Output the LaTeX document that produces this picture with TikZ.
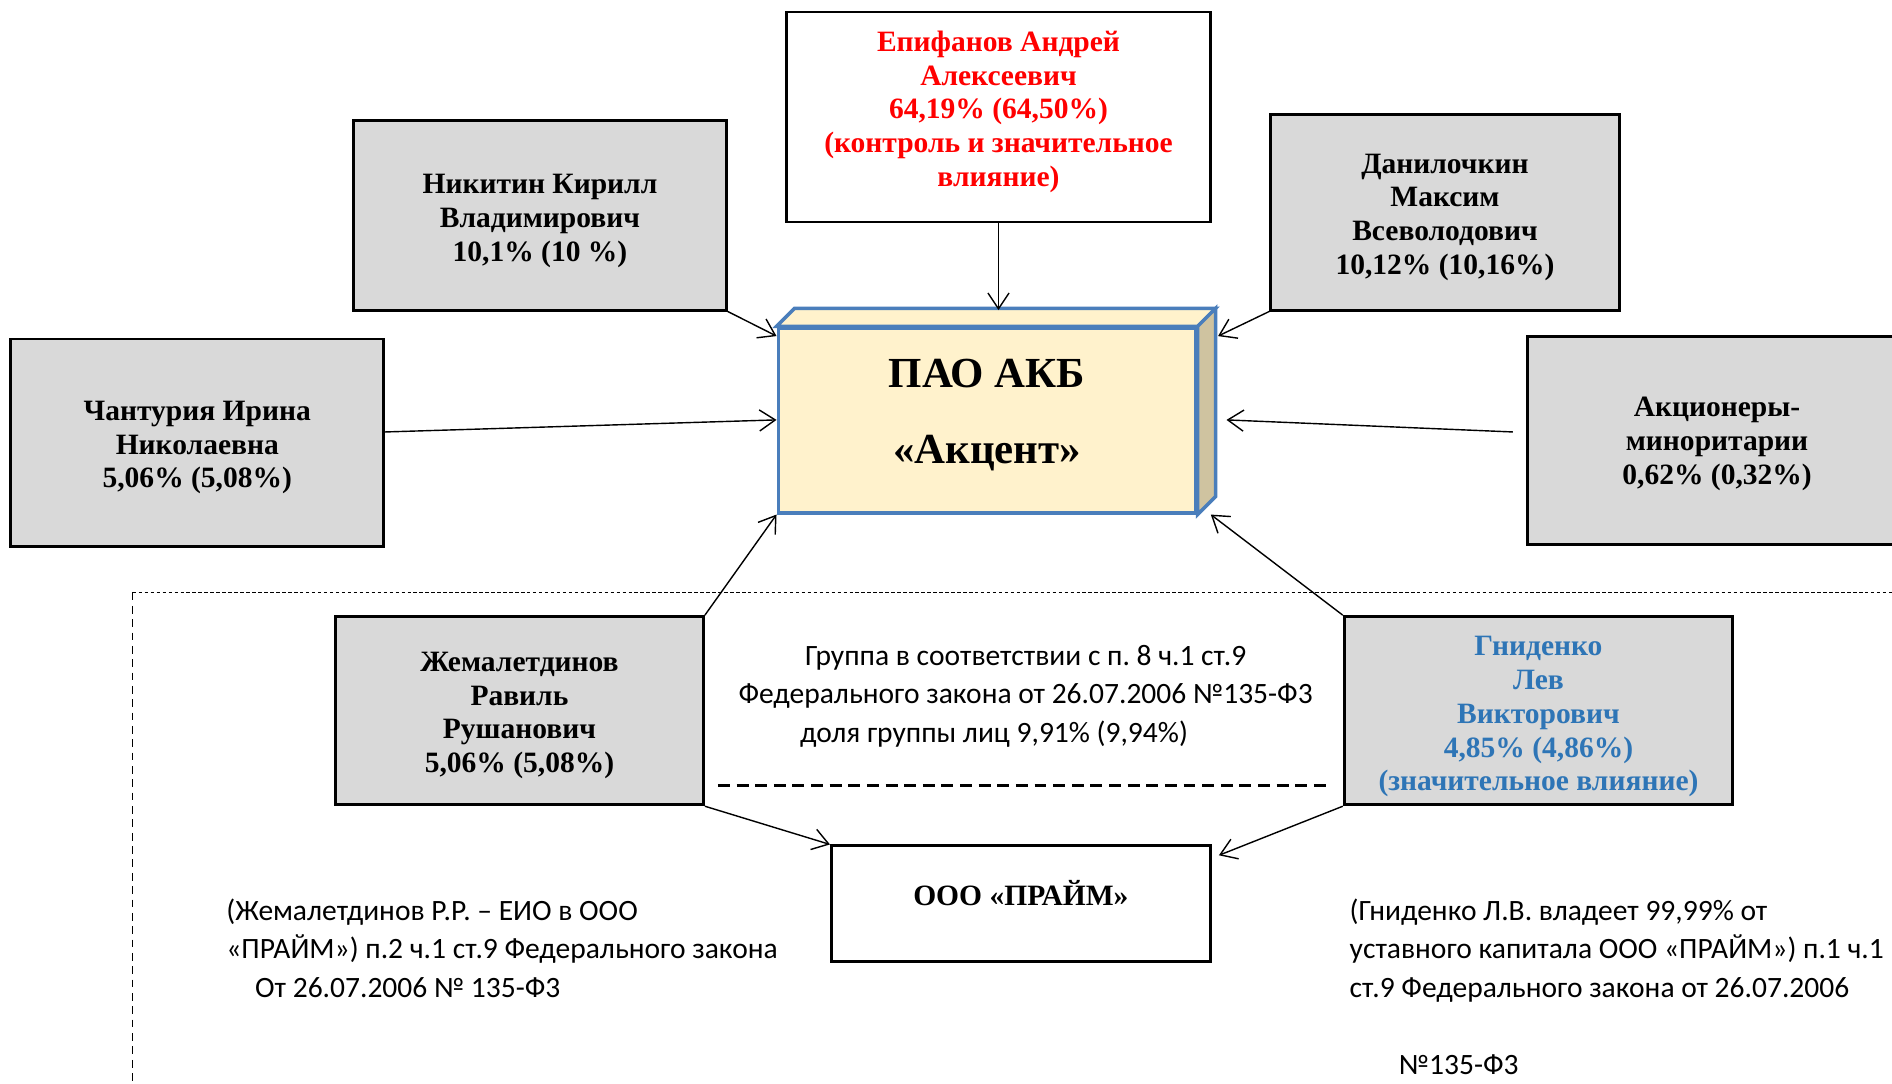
\documentclass[tikz,border=0pt]{standalone}
\usepackage{fontspec}
\setmainfont{Liberation Serif}
\newfontfamily\calibri{Carlito}
\usetikzlibrary{calc}
\usetikzlibrary{arrows.meta}
\frenchspacing

\definecolor{boxgray}{RGB}{217,217,217}
\definecolor{paofill}{RGB}{255,242,204}
\definecolor{paoside}{RGB}{207,195,160}
\definecolor{paoline}{RGB}{74,126,187}
\definecolor{gnidblue}{RGB}{46,117,182}

\newdimen\pxu \pxu=0.012066cm

\tikzset{
  holder/.style={draw=black,line width=0.8pt,fill=boxgray,align=center,inner sep=0pt,
    text depth=0pt,font=\fontsize{8.4}{9.6}\selectfont\bfseries},
  link/.style={-{Straight Barb[length=4.5pt,width=6pt]},line width=0.4pt},
  note/.style={align=left,inner sep=0pt,anchor=north west,
    font=\calibri\fontsize{8.4}{11}\selectfont},
}

\begin{document}
\begin{tikzpicture}[x=0.012066cm,y=-0.012066cm]
                    \useasboundingbox (0,0) rectangle (1568,898);
                    \clip (0,0) rectangle (1568,898);
                    % group frame
                    \draw[dash pattern=on 1pt off 0.7pt,line width=0.4pt] (110,491) -- (1580,491);
                    \draw[dash pattern=on 2.2pt off 1.6pt,line width=0.4pt] (110,491) -- (110,900);
                    \draw[dash pattern=on 3.4pt off 1.9pt,line width=0.6pt] (595,651) -- (1100,651);
                    % bank
                    \node[draw=paoline,line width=1pt,fill=paofill,inner sep=0pt,align=center,
                        minimum width=346\pxu,minimum height=153\pxu,text height=24.2pt,text depth=0pt,
                        font=\fontsize{12.2}{21.6}\selectfont\bfseries] (pao) at (818,348.5) {ПАО АКБ\\«Акцент»};
                    \draw[paoline,line width=1pt,fill=paofill] (pao.north west) -- ++(15,-15)
                        -- ($(pao.north east)+(15,-15)$) -- (pao.north east) -- cycle;
                    \draw[paoline,line width=1pt,fill=paoside] (pao.north east) -- ++(15,-15)
                        -- ($(pao.south east)+(15,-15)$) -- (pao.south east) -- cycle;
                    % shareholders
                    \node[holder,fill=white,text=red,minimum width=351\pxu,minimum height=174\pxu,text height=39.4pt] (epif)
                        at (827.5,97) {Епифанов Андрей\\Алексеевич\\64,19\% (64,50\%)\\(контроль и значительное\\влияние)};
                    \node[holder,minimum width=309\pxu,minimum height=157\pxu,text height=26pt] (nikit)
                        at (447.5,178.5) {Никитин Кирилл\\Владимирович\\10,1\% (10 \%)};
                    \node[holder,minimum width=289\pxu,minimum height=162\pxu,text height=35.3pt] (danil)
                        at (1197.5,176) {Данилочкин\\Максим\\Всеволодович\\10,12\% (10,16\%)};
                    \node[holder,minimum width=309\pxu,minimum height=172\pxu,text height=25.7pt] (chant)
                        at (163.5,367) {Чантурия Ирина\\Николаевна\\5,06\% (5,08\%)};
                    \node[holder,minimum width=314\pxu,minimum height=172\pxu,text height=25pt] (minor)
                        at (1423,365) {Акционеры-\\миноритарии\\0,62\% (0,32\%)};
                    \node[holder,minimum width=305\pxu,minimum height=156\pxu,text height=35.3pt] (zhem)
                        at (430.5,589) {Жемалетдинов\\Равиль\\Рушанович\\5,06\% (5,08\%)};
                    \node[holder,text=gnidblue,minimum width=322\pxu,minimum height=156\pxu,text height=45.6pt] (gnid)
                        at (1275,589) {Гниденко\\Лев\\Викторович\\4,85\% (4,86\%)\\(значительное влияние)};
                    \node[holder,fill=white,minimum width=314\pxu,minimum height=96\pxu,text height=1pt] (prime)
                        at (846,749) {ООО «ПРАЙМ»};
                    % texts
                    \node[note,align=center,anchor=center] (group) at (850,577)
                        {Группа в соответствии с п. 8 ч.1 ст.9\\Федерального закона от 26.07.2006 №135-Ф3\\доля группы лиц 9,91\% (9,94\%)\hspace*{18pt}};
                    \node[note] (zhemnote) at (187,744)
                        {(Жемалетдинов Р.Р. – ЕИО в ООО\\«ПРАЙМ») п.2 ч.1 ст.9 Федерального закона\\\hspace*{8.2pt}От 26.07.2006 № 135-Ф3};
                    \node[note] (gnidnote) at (1118,744)
                        {(Гниденко Л.В. владеет 99,99\% от\\уставного капитала ООО «ПРАЙМ») п.1 ч.1\\ст.9 Федерального закона от 26.07.2006\\[\baselineskip]\hspace*{14pt}№135-Ф3};
                    % links
                    \draw[link] (epif.south) -- (epif.south |- 0,257);
                    \draw[link] (nikit.south east) -- ($(pao.north west)+(0,8)$);
                    \draw[link] (danil.south west) -- ($(pao.north east)+(17,8)$);
                    \draw[link] ($(chant.east)+(0,-9)$) -- ($(pao.west)+(0,-0.5)$);
                    \draw[link] ($(minor.west)+(-11,-7)$) -- ($(pao.east)+(24,-0.5)$);
                    \draw[link] (zhem.north east) -- (pao.south west);
                    \draw[link] (gnid.north west) -- ($(pao.south east)+(11,0)$);
                    \draw[link] (zhem.south east) -- (prime.north west);
                    \draw[link] (gnid.south west) -- ($(prime.north east)+(6,9)$);
                \end{tikzpicture}
\end{document}
